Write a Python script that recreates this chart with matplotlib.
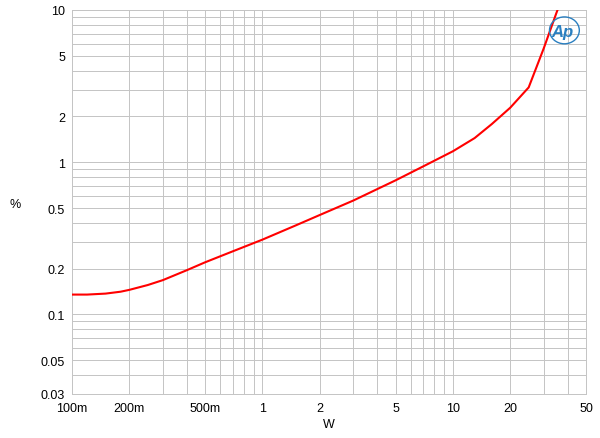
import matplotlib
matplotlib.use("Agg")
import matplotlib.pyplot as plt
from matplotlib.patches import Ellipse
from matplotlib.ticker import FixedLocator, FixedFormatter, LogLocator, NullFormatter

plt.rcParams["font.family"] = ["Liberation Sans", "DejaVu Sans"]

# THD+N (%) vs output power (W)
power_w = [0.1, 0.12, 0.15, 0.18, 0.2, 0.25, 0.3, 0.4, 0.5, 0.7, 1, 1.5, 2, 3,
           5, 7, 10, 13, 16, 20, 25, 30, 35, 40]
thd_pct = [0.135, 0.135, 0.137, 0.141, 0.145, 0.156, 0.168, 0.195, 0.22, 0.26,
           0.31, 0.385, 0.45, 0.56, 0.76, 0.94, 1.18, 1.44, 1.78, 2.28, 3.1,
           5.6, 9.6, 15.0]

x_ticks = [0.1, 0.2, 0.5, 1, 2, 5, 10, 20, 50]
x_labels = ["100m", "200m", "500m", "1", "2", "5", "10", "20", "50"]
y_ticks = [0.03, 0.05, 0.1, 0.2, 0.5, 1, 2, 5, 10]
y_labels = ["0.03", "0.05", "0.1", "0.2", "0.5", "1", "2", "5", "10"]

fig = plt.figure(figsize=(6.0, 4.39), dpi=100)
ax = fig.add_axes([72 / 600, 1 - 395 / 439, (586 - 72) / 600, (395 - 11) / 439])

ax.plot(power_w, thd_pct, color="#ff0000", lw=1.5, zorder=3)

ax.set_xscale("log")
ax.set_yscale("log")
ax.set_xlim(0.1, 50)
ax.set_ylim(0.03, 10)

ax.xaxis.set_major_locator(FixedLocator(x_ticks))
ax.xaxis.set_major_formatter(FixedFormatter(x_labels))
ax.xaxis.set_minor_locator(LogLocator(base=10, subs=range(1, 10), numticks=20))
ax.xaxis.set_minor_formatter(NullFormatter())
ax.yaxis.set_major_locator(FixedLocator(y_ticks))
ax.yaxis.set_major_formatter(FixedFormatter(y_labels))
ax.yaxis.set_minor_locator(LogLocator(base=10, subs=range(1, 10), numticks=20))
ax.yaxis.set_minor_formatter(NullFormatter())

ax.grid(True, which="both", color="#c4c4c4", lw=0.7)
ax.tick_params(which="both", length=0, labelsize=9, colors="#000000")
ax.tick_params(axis="x", pad=6)
ax.tick_params(axis="y", pad=5)
for s in ax.spines.values():
    s.set_color("#c4c4c4")
    s.set_linewidth(0.7)

fig.text(15 / 600, 1 - 205 / 439, "%", fontsize=9, ha="center", va="center")
fig.text(329 / 600, 1 - 425 / 439, "W", fontsize=9, ha="center", va="center")

# Ap logo
ax.add_patch(Ellipse((0.958, 0.947), 0.058, 0.07, transform=ax.transAxes,
                     fill=False, ec="#2a7fc0", lw=1.0, zorder=4))
ax.text(0.955, 0.945, "Ap", transform=ax.transAxes, color="#2a7fc0",
        fontsize=12, fontstyle="italic", fontweight="bold",
        ha="center", va="center", zorder=5)

fig.savefig("out.png", dpi=100)
